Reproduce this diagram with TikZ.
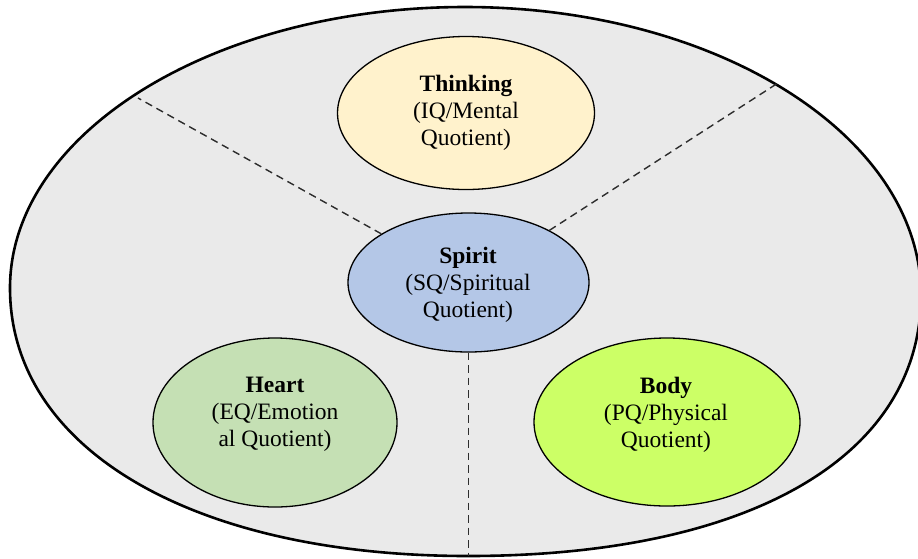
\documentclass[tikz,border=0pt]{standalone}
\usepackage{fontspec}
\setmainfont{Liberation Serif}
\usetikzlibrary{shapes.geometric}
\definecolor{outerfill}{RGB}{234,234,234}
\definecolor{thinkfill}{RGB}{255,242,204}
\definecolor{spiritfill}{RGB}{180,199,231}
\definecolor{heartfill}{RGB}{197,224,180}
\definecolor{bodyfill}{RGB}{204,255,102}
\definecolor{divider}{RGB}{45,45,45}
\begin{document}
\begin{tikzpicture}[x=1pt,y=-1pt,
  facet/.style={ellipse, draw=black, line width=1.3pt, inner sep=0pt},
  facettext/.style={align=center, font=\fontsize{23.5}{27}\selectfont, inner sep=0pt},
  divline/.style={draw=divider, dashed, dash pattern=on 7.5pt off 5pt, line width=1.4pt}]
\useasboundingbox (0,0) rectangle (918,558);
\clip (0,0) rectangle (918,558);

% outer oval, built from four quarter curves
\coordinate (top) at (465,7);
\coordinate (right) at (921,295);
\coordinate (bottom) at (468,556);
\coordinate (left) at (10,288);
\draw[fill=outerfill, line width=2.6pt]
  (top) .. controls (716.8,7) and (921,135.9) .. (right)
        .. controls (921,457) and (749,556) .. (bottom)
        .. controls (193,556) and (10,449) .. (left)
        .. controls (10,133) and (214,7) .. cycle;

% ends of the dividers on the outer oval
\coordinate (nw) at (138,98);
\coordinate (ne) at (778,83);

% the four facets
\node[facet, fill=thinkfill, minimum width=257pt, minimum height=153pt] (thinking) at (466,113) {};
\node[facet, fill=spiritfill, minimum width=241pt, minimum height=139pt] (spirit) at (468.5,282.5) {};
\node[facet, fill=heartfill, minimum width=244pt, minimum height=169pt] (heart) at (275,422.5) {};
\node[facet, fill=bodyfill, minimum width=266pt, minimum height=168pt] (body) at (667,422) {};

% dividers
\draw[divline] (spirit) -- (nw);
\draw[divline] (spirit) -- (ne);
\draw[divline] (spirit.south) -- (spirit.south |- bottom);

% labels
\node[facettext] (thinkinglabel) at (466,113) {\textbf{Thinking}\\(IQ/Mental\\Quotient)};
\node[facettext] (spiritlabel) at (468,285) {\textbf{Spirit}\\(SQ/Spiritual\\Quotient)};
\node[facettext] (heartlabel) at (275,414.5) {\textbf{Heart}\\(EQ/Emotion\\al Quotient)};
\node[facettext] (bodylabel) at (666,414.5) {\textbf{Body}\\(PQ/Physical\\Quotient)};
\end{tikzpicture}
\end{document}
